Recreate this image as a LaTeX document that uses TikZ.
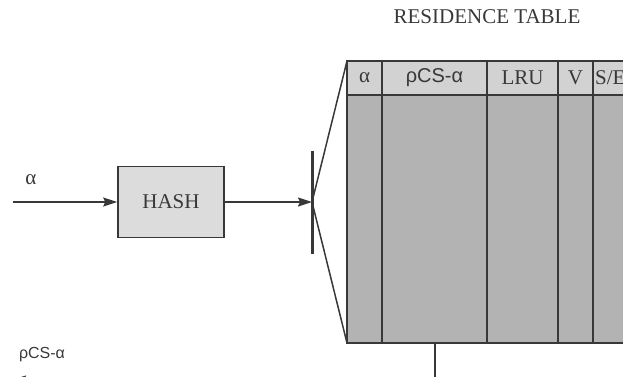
\documentclass[tikz,border=0pt]{standalone}
\usepackage{fontspec}
\setmainfont{Liberation Serif}
\newfontfamily\labelfont{Liberation Sans}
\usepackage{tikz}
\usetikzlibrary{positioning, arrows.meta, calc}

\definecolor{linegray}{HTML}{383838}
\definecolor{headgray}{HTML}{D2D2D2}
\definecolor{bodygray}{HTML}{B3B3B3}
\definecolor{boxgray}{HTML}{DCDCDC}

\tikzset{
  flow/.style={-{Stealth[length=14pt,width=9pt,inset=2pt]}, line width=1.6pt, linegray},
  hashbox/.style={draw=linegray, fill=boxgray, line width=1.6pt, minimum width=106pt, minimum height=71pt, inner sep=0pt},
  colline/.style={linegray, line width=1.5pt},
}

\begin{document}
\begin{tikzpicture}[x=1pt, y=-1pt, font=\fontsize{21}{24}\selectfont, text=linegray]
  \useasboundingbox (0,0) rectangle (623,376);

  % Title of the table
  \node (title) at (487,17) {RESIDENCE TABLE};

  % Input address and hash unit
  \coordinate (src) at (13,202);
  \node (alpha) at (31,180) {α};
  \node[hashbox] (hash) at (171,202) {HASH};
  \draw[flow] (src) -- (hash);

  % Selector bar
  \coordinate (bartop) at (312,151);
  \coordinate (barbot) at (312,254);
  \coordinate (fan) at (312,202);
  \draw[linegray, line width=3pt] (bartop) -- (barbot);
  \draw[flow] (hash) -- (fan);

  % Table body and header
  \coordinate (tl) at (347,61);
  \coordinate (bl) at (347,343);
  \fill[bodygray] (347,95) rectangle (640,343);
  \fill[headgray] (347,61) rectangle (640,95);
  \draw[colline] (640,61) -- (tl) -- (bl) -- (640,343);
  \draw[colline] (347,95) -- (640,95);
  \foreach \cx in {382,487,558,593}
    \draw[colline] (\cx,61) -- (\cx,343);

  % Fan lines into the table
  \draw[colline] (fan) -- (tl);
  \draw[colline] (fan) -- (bl);

  % Column headings
  \node (hA) at (364.5,78) {α};
  \node (hB) at (434.5,78) {\labelfont\fontsize{20}{24}\selectfont ρCS-α};
  \node (hC) at (522.5,78) {LRU};
  \node (hD) at (575.5,78) {V};
  \node[anchor=west, inner sep=0pt] (hE) at (595,78) {S/E};

  % Output back to the left
  \coordinate (tap) at (435,343);
  \coordinate (turn) at (435,380);
  \coordinate (dst) at (12,380);
  \draw[colline] (tap) -- (turn);
  \draw[flow] (turn) -- (dst);
  \node (out) at (42,355) {\labelfont\fontsize{16}{19}\selectfont ρCS-α};
\end{tikzpicture}
\end{document}
